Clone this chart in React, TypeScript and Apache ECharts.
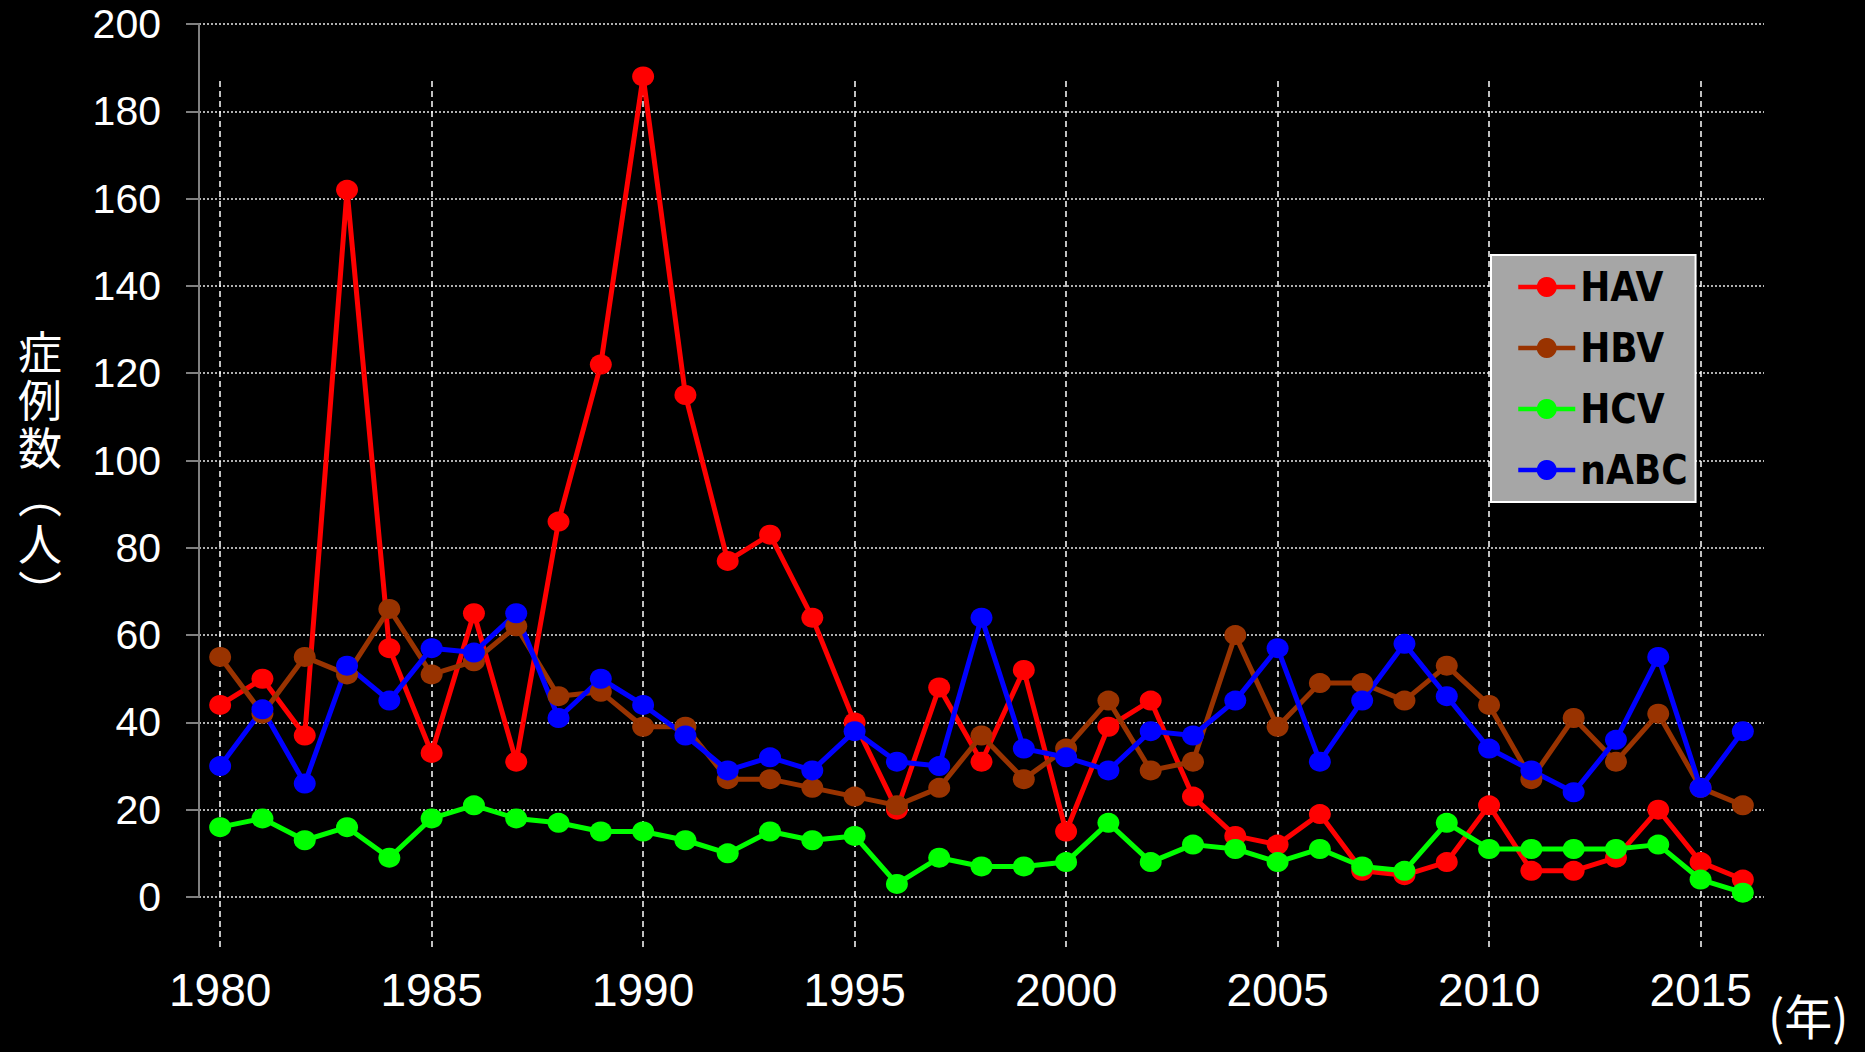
import React, { useEffect, useRef } from "react";
import * as echarts from "echarts";

const years = [
  "1980","1981","1982","1983","1984","1985","1986","1987","1988","1989",
  "1990","1991","1992","1993","1994","1995","1996","1997","1998","1999",
  "2000","2001","2002","2003","2004","2005","2006","2007","2008","2009",
  "2010","2011","2012","2013","2014","2015","2016",
];

const HAV = [44,50,37,162,57,33,65,31,86,122,188,115,77,83,64,40,20,48,31,52,15,39,45,23,14,12,19,6,5,8,21,6,6,9,20,8,4];
const HBV = [55,42,55,51,66,51,54,62,46,47,39,39,27,27,25,23,21,25,37,27,34,45,29,31,60,39,49,49,45,53,44,27,41,31,42,25,21];
const HCV = [16,18,13,16,9,18,21,18,17,15,15,13,10,15,13,14,3,9,7,7,8,17,8,12,11,8,11,7,6,17,11,11,11,11,12,4,1];
const nABC = [30,43,26,53,45,57,56,65,41,50,44,37,29,32,29,38,31,30,64,34,32,29,38,37,45,57,31,45,58,46,34,29,24,36,55,25,38];

const seriesNames = ["HAV", "HBV", "HCV", "nABC"];
const seriesColors = ["#ff0000", "#993300", "#00ff00", "#0000ff"];
const seriesData = [HAV, HBV, HCV, nABC];

const yMin = 0;
const yMax = 200;
const yStep = 20;

export default function App() {
  const ref = useRef<HTMLDivElement>(null);

  useEffect(() => {
    if (!ref.current) return;
    const chart = echarts.init(ref.current, null, { renderer: "svg" });
    const option: any = {
      animation: false,
      backgroundColor: "#000000",
      grid: [
        { left: 199, right: 101, top: 24, bottom: 155 },
        { left: 220, right: 122, top: 81, bottom: 103 },
      ],
      xAxis: [
        {
          type: "category",
          gridIndex: 0,
          data: years,
          boundaryGap: true,
          axisLine: { show: false },
          axisTick: { show: false },
          splitLine: { show: false },
          axisLabel: {
            show: true,
            interval: (i: number) => i % 5 === 0,
            color: "#ffffff",
            fontSize: 46,
            fontFamily: "'Liberation Sans', Arial, sans-serif",
            margin: 70,
          },
        },
        {
          type: "category",
          gridIndex: 1,
          data: years,
          boundaryGap: false,
          axisLine: { show: false },
          axisTick: { show: false },
          axisLabel: { show: false },
          splitLine: {
            show: true,
            interval: (i: number) => i % 5 === 0,
            lineStyle: { color: "#ffffff", width: 1.5, type: [6, 4] },
          },
        },
      ],
      yAxis: [
        {
          type: "value",
          gridIndex: 0,
          min: yMin,
          max: yMax,
          interval: yStep,
          axisLine: { show: true, lineStyle: { color: "#808080", width: 2 } },
          axisTick: { show: true, length: 13, lineStyle: { color: "#808080", width: 2 } },
          axisLabel: {
            color: "#ffffff",
            fontSize: 41,
            fontFamily: "'Liberation Sans', Arial, sans-serif",
            margin: 38,
          },
          splitLine: {
            show: true,
            lineStyle: { color: "#b0b0b0", width: 2, type: [2, 2] },
          },
        },
        {
          type: "value",
          gridIndex: 1,
          min: 0,
          max: 1,
          show: false,
          splitLine: { show: false },
        },
      ],
      legend: {
        show: true,
        orient: "vertical",
        left: 1491,
        top: 255,
        data: seriesNames,
        backgroundColor: "#a6a6a6",
        borderColor: "#ffffff",
        borderWidth: 2,
        padding: [9, 8, 9, 25],
        itemGap: 15,
        itemWidth: 57,
        itemHeight: 25,
        lineStyle: { width: 4.5 },
        textStyle: {
          color: "#000000",
          fontSize: 40,
          fontWeight: "bold",
          fontFamily: "'DejaVu Sans Condensed', sans-serif",
          lineHeight: 46,
        },
      },
      graphic: [
        {
          type: "text",
          left: 18,
          top: 326,
          style: {
            text: "症\n例\n数\n︵\n人\n︶",
            fill: "#ffffff",
            font: "44px 'Noto Sans CJK JP'",
            lineHeight: 48,
          },
        },
        {
          type: "text",
          left: 1768,
          top: 990,
          style: {
            text: "(年)",
            fill: "#ffffff",
            font: "48px 'Noto Sans CJK JP'",
          },
        },
      ],
      series: seriesNames.map((name, i) => ({
        name,
        type: "line",
        xAxisIndex: 0,
        yAxisIndex: 0,
        data: seriesData[i],
        symbol: "circle",
        symbolSize: [22, 20],
        lineStyle: { color: seriesColors[i], width: 5 },
        itemStyle: { color: seriesColors[i] },
        emphasis: { disabled: true },
      })),
    };
    chart.setOption(option);
    return () => chart.dispose();
  }, []);

  return (
    <div
      ref={ref}
      style={{ position: "absolute", left: 0, top: 0, width: 1865, height: 1052, background: "#000" }}
    />
  );
}
